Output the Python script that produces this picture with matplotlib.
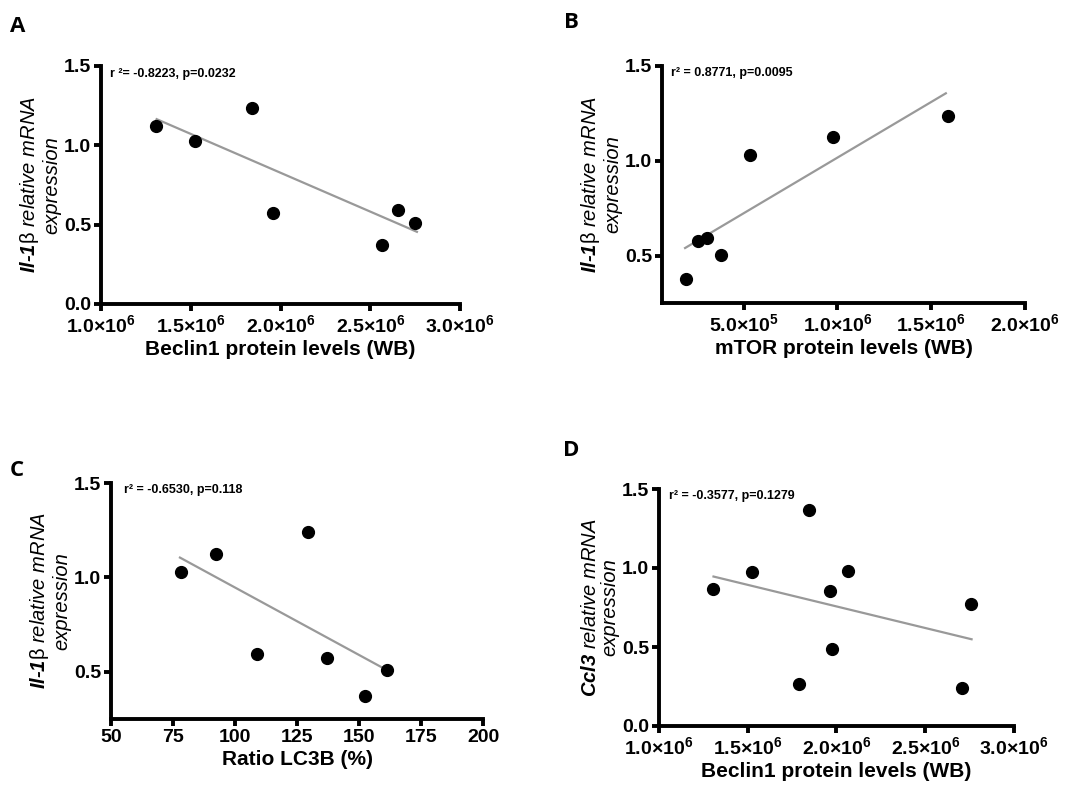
import matplotlib
matplotlib.use("Agg")
import matplotlib.pyplot as plt

plt.rcParams['font.family'] = ['Liberation Sans', 'DejaVu Sans']
plt.rcParams['mathtext.fontset'] = 'custom'
plt.rcParams['mathtext.rm'] = 'Liberation Sans'
plt.rcParams['mathtext.it'] = 'Liberation Sans:italic'
plt.rcParams['mathtext.bf'] = 'Liberation Sans:bold'
plt.rcParams['mathtext.bfit'] = 'Liberation Sans:italic:bold'

# A: Beclin1 vs Il-1b
a_x = [1.306e6, 1.524e6, 1.843e6, 1.960e6, 2.567e6, 2.655e6, 2.751e6]
a_y = [1.124, 1.027, 1.237, 0.575, 0.372, 0.594, 0.508]
a_fit_x = [1.31e6, 2.76e6]
a_fit_y = [1.165, 0.455]

# B: mTOR vs Il-1b
b_x = [1.94e5, 2.59e5, 3.07e5, 3.81e5, 5.32e5, 9.74e5, 1.589e6]
b_y = [0.374, 0.577, 0.595, 0.505, 1.03, 1.126, 1.238]
b_fit_x = [1.88e5, 1.578e6]
b_fit_y = [0.54, 1.356]

# C: LC3B ratio vs Il-1b
c_x = [78.1, 92.3, 129.4, 108.8, 137.1, 161.1, 152.5]
c_y = [1.03, 1.126, 1.238, 0.595, 0.574, 0.507, 0.374]
c_fit_x = [77.8, 161.1]
c_fit_y = [1.105, 0.51]

# D: Beclin1 vs Ccl3
d_x = [1.307e6, 1.524e6, 1.844e6, 1.786e6, 1.964e6, 1.974e6, 2.066e6, 2.705e6, 2.758e6]
d_y = [0.866, 0.974, 1.369, 0.266, 0.856, 0.486, 0.978, 0.243, 0.773]
d_fit_x = [1.307e6, 2.761e6]
d_fit_y = [0.946, 0.549]

beclin_ticks = [1.0e6, 1.5e6, 2.0e6, 2.5e6, 3.0e6]
beclin_labels = [r"$\mathbf{1.0{\times}10^{6}}$", r"$\mathbf{1.5{\times}10^{6}}$",
                 r"$\mathbf{2.0{\times}10^{6}}$", r"$\mathbf{2.5{\times}10^{6}}$",
                 r"$\mathbf{3.0{\times}10^{6}}$"]
mtor_ticks = [5.0e5, 1.0e6, 1.5e6, 2.0e6]
mtor_labels = [r"$\mathbf{5.0{\times}10^{5}}$", r"$\mathbf{1.0{\times}10^{6}}$",
               r"$\mathbf{1.5{\times}10^{6}}$", r"$\mathbf{2.0{\times}10^{6}}$"]
lc3_ticks = [50, 75, 100, 125, 150, 175, 200]

il1b_label = "$\\mathbfit{Il\u20101}\\mathrm{\\beta}$ relative mRNA\nexpression"
ccl3_label = r"$\mathbfit{Ccl3}$ relative mRNA" + "\nexpression"

W, H = 1073, 785
fig = plt.figure(figsize=(W / 100, H / 100), dpi=100)


def make_ax(l, r, t, b):
    return fig.add_axes([l / W, 1 - b / H, (r - l) / W, (b - t) / H])


def style(ax, xs, ys, fx, fy, xlim, ylim, yticks, xticks, xlabels, xlabel, ylabel, note, nx, ny):
    ax.plot(fx, fy, color='#999999', lw=1.6, zorder=2)
    ax.plot(xs, ys, 'o', color='black', ms=8.5, zorder=3)
    ax.set_xlim(xlim)
    ax.set_ylim(ylim)
    for s in ['top', 'right']:
        ax.spines[s].set_visible(False)
    for s in ['left', 'bottom']:
        ax.spines[s].set_linewidth(2.8)
    ax.tick_params(width=2.8, length=5, labelsize=14, pad=2)
    ax.set_yticks(yticks)
    ax.set_yticklabels(["%.1f" % v for v in yticks], fontweight='bold')
    ax.set_xticks(xticks)
    ax.set_xticklabels(xlabels, fontweight='bold')
    ax.set_xlabel(xlabel, fontsize=15, fontweight='bold', labelpad=3)
    ax.set_ylabel(ylabel, fontsize=14.5, fontstyle='italic', labelpad=2, linespacing=1.05)
    ax.text(nx, ny, note, transform=ax.transAxes, fontsize=9, fontweight='bold',
            ha='left', va='center')


axA = make_ax(101, 460, 66, 304)
style(axA, a_x, a_y, a_fit_x, a_fit_y, (1.0e6, 3.0e6), (0, 1.5), [0, 0.5, 1.0, 1.5],
      beclin_ticks, beclin_labels, "Beclin1 protein levels (WB)", il1b_label,
      "r \u00b2= -0.8223, p=0.0232", 0.025, 0.966)

axB = make_ax(662, 1025, 66, 303)
style(axB, b_x, b_y, b_fit_x, b_fit_y, (6.5e4, 2.0e6), (0.25, 1.5), [0.5, 1.0, 1.5],
      mtor_ticks, mtor_labels, "mTOR protein levels (WB)", il1b_label,
      "r\u00b2 = 0.8771, p=0.0095", 0.026, 0.972)

axC = make_ax(111, 483, 483, 719)
style(axC, c_x, c_y, c_fit_x, c_fit_y, (50, 200), (0.25, 1.5), [0.5, 1.0, 1.5],
      lc3_ticks, [str(v) for v in lc3_ticks], "Ratio LC3B (%)", il1b_label,
      "r\u00b2 = -0.6530, p=0.118", 0.035, 0.969)

axD = make_ax(659, 1014, 489, 726)
style(axD, d_x, d_y, d_fit_x, d_fit_y, (1.0e6, 3.0e6), (0, 1.5), [0, 0.5, 1.0, 1.5],
      beclin_ticks, beclin_labels, "Beclin1 protein levels (WB)", ccl3_label,
      "r\u00b2 = -0.3577, p=0.1279", 0.028, 0.972)

for lab, x, y in [("A", 10, 27), ("B", 564, 22), ("C", 10, 470), ("D", 563, 450)]:
    fig.text(x / W, 1 - y / H, lab, fontsize=16, fontweight='bold', ha='left', va='center',
             family=['Open Sans', 'DejaVu Sans'])

fig.savefig("out.png", dpi=100)
